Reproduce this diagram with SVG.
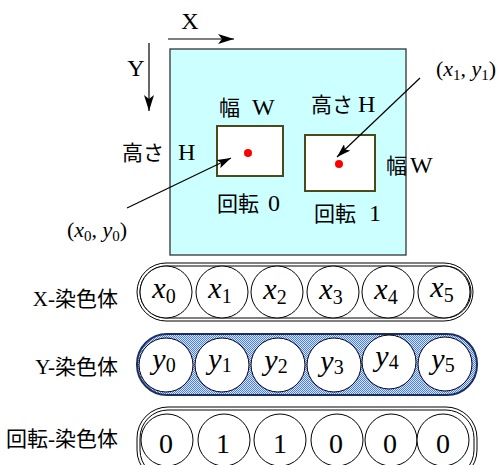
<svg xmlns="http://www.w3.org/2000/svg" width="502" height="465" viewBox="0 0 502 465">
<style>
text{font-family:"Liberation Serif","Noto Sans CJK JP",serif;fill:#000}
.lbl{font-size:21px}
.lat{font-size:24px}
.ax{font-size:24px}
.gene{font-size:30px}
.num{font-size:28px}
.it{font-style:italic}
.cell{fill:#fff;stroke:#000;stroke-width:1}
.pill{fill:#fff;stroke:#000;stroke-width:1}
.conn{stroke:#000;stroke-width:1.2;fill:none}
</style>
<defs>
<pattern id="chk" width="2" height="2" patternUnits="userSpaceOnUse">
<rect width="2" height="2" fill="#4a7ef0"/>
<rect x="1" y="0" width="1" height="1" fill="#dbe6ff"/>
<rect x="0" y="1" width="1" height="1" fill="#dbe6ff"/>
</pattern>
<marker id="ah" viewBox="0 0 16 10" refX="16" refY="5" markerWidth="16" markerHeight="10" markerUnits="userSpaceOnUse" orient="auto">
<path d="M0,0 L16,5 L0,10 L4,5 Z" fill="#000"/>
</marker>
<marker id="ahs" viewBox="0 0 14 9" refX="14" refY="4.5" markerWidth="14" markerHeight="9" markerUnits="userSpaceOnUse" orient="auto">
<path d="M0,0 L14,4.5 L0,9 L3,4.5 Z" fill="#000"/>
</marker>
</defs>

<g id="plane">
<rect x="170" y="49" width="236" height="206" fill="#ccffff" stroke="#333" stroke-width="1.3"/>
</g>

<g id="axis-x">
<text class="ax" x="190" y="29" text-anchor="middle">X</text>
</g>
<g id="axis-y">
<text class="ax" x="136" y="76" text-anchor="middle">Y</text>
</g>

<g id="rect0">
<rect x="217" y="126" width="66" height="50" fill="#fff" stroke="#4a4a1a" stroke-width="2"/>
<circle cx="248" cy="153" r="4" fill="#ff0000"/>
<text class="lbl" y="115"><tspan x="219">幅</tspan><tspan class="lat" x="252">W</tspan></text>
<text class="lbl" y="160"><tspan x="122">高さ</tspan><tspan class="lat" x="178">H</tspan></text>
<text class="lbl" y="211"><tspan x="217">回転</tspan><tspan class="lat" x="268">0</tspan></text>
</g>

<g id="rect1">
<rect x="305" y="135" width="70" height="56" fill="#fff" stroke="#4a4a1a" stroke-width="2"/>
<circle cx="339" cy="164" r="4" fill="#ff0000"/>
<text class="lbl" y="112"><tspan x="311">高さ</tspan><tspan class="lat" x="358">H</tspan></text>
<text class="lbl" y="173"><tspan x="386">幅</tspan><tspan class="lat" x="410">W</tspan></text>
<text class="lbl" y="221"><tspan x="314">回転</tspan><tspan class="lat" x="369">1</tspan></text>
</g>

<g id="label-p0">
<text x="97" y="237" text-anchor="middle" font-size="22">(<tspan class="it">x</tspan><tspan font-size="15" dy="4">0</tspan><tspan dy="-4">, </tspan><tspan class="it">y</tspan><tspan font-size="15" dy="4">0</tspan><tspan dy="-4">)</tspan></text>
</g>
<g id="label-p1">
<text x="466" y="76" text-anchor="middle" font-size="22">(<tspan class="it">x</tspan><tspan font-size="15" dy="4">1</tspan><tspan dy="-4">, </tspan><tspan class="it">y</tspan><tspan font-size="15" dy="4">1</tspan><tspan dy="-4">)</tspan></text>
</g>

<g id="connectors">
<line class="conn" x1="168" y1="39" x2="234" y2="39" stroke-width="1.5" marker-end="url(#ah)"/>
<line class="conn" x1="149" y1="43" x2="149" y2="111" stroke-width="1.5" marker-end="url(#ah)"/>
<line class="conn" x1="127" y1="208" x2="231" y2="158" marker-end="url(#ahs)"/>
<line class="conn" x1="420" y1="78" x2="337" y2="157" marker-end="url(#ahs)"/>
</g>

<g id="chrom-x">
<text class="lbl" x="118" y="306" text-anchor="end">X-染色体</text>
<rect class="pill" x="137" y="263" width="336" height="58" rx="29"/>
<rect class="pill" x="140" y="266" width="331" height="52" rx="26"/>
<circle class="cell" cx="166" cy="292" r="26"/>
<circle class="cell" cx="222" cy="292" r="26"/>
<circle class="cell" cx="277" cy="292" r="26"/>
<circle class="cell" cx="333" cy="292" r="26"/>
<circle class="cell" cx="388" cy="292" r="26"/>
<circle class="cell" cx="444" cy="292" r="26"/>
<text class="gene" x="164" y="298" text-anchor="middle"><tspan class="it">x</tspan><tspan font-size="20" dy="5">0</tspan></text>
<text class="gene" x="220" y="298" text-anchor="middle"><tspan class="it">x</tspan><tspan font-size="20" dy="5">1</tspan></text>
<text class="gene" x="275" y="299" text-anchor="middle"><tspan class="it">x</tspan><tspan font-size="20" dy="5">2</tspan></text>
<text class="gene" x="331" y="299" text-anchor="middle"><tspan class="it">x</tspan><tspan font-size="20" dy="5">3</tspan></text>
<text class="gene" x="386" y="299" text-anchor="middle"><tspan class="it">x</tspan><tspan font-size="20" dy="5">4</tspan></text>
<text class="gene" x="442" y="297" text-anchor="middle"><tspan class="it">x</tspan><tspan font-size="20" dy="5">5</tspan></text>
</g>

<g id="chrom-y">
<text class="lbl" x="118" y="374" text-anchor="end">Y-染色体</text>
<rect x="137" y="334" width="340" height="61" rx="30" fill="url(#chk)" stroke="#1c2e5c" stroke-width="2"/>
<circle class="cell" cx="166" cy="365" r="27"/>
<circle class="cell" cx="222" cy="365" r="27"/>
<circle class="cell" cx="278" cy="365" r="27"/>
<circle class="cell" cx="334" cy="365" r="27"/>
<circle class="cell" cx="389" cy="362" r="27"/>
<circle class="cell" cx="445" cy="364" r="27"/>
<text class="gene" x="164" y="369" text-anchor="middle"><tspan class="it">y</tspan><tspan font-size="20" dy="3">0</tspan></text>
<text class="gene" x="220" y="369" text-anchor="middle"><tspan class="it">y</tspan><tspan font-size="20" dy="3">1</tspan></text>
<text class="gene" x="276" y="370" text-anchor="middle"><tspan class="it">y</tspan><tspan font-size="20" dy="3">2</tspan></text>
<text class="gene" x="332" y="371" text-anchor="middle"><tspan class="it">y</tspan><tspan font-size="20" dy="3">3</tspan></text>
<text class="gene" x="387" y="366" text-anchor="middle"><tspan class="it">y</tspan><tspan font-size="20" dy="3">4</tspan></text>
<text class="gene" x="443" y="369" text-anchor="middle"><tspan class="it">y</tspan><tspan font-size="20" dy="3">5</tspan></text>
</g>

<g id="chrom-rot">
<text class="lbl" x="118" y="446" text-anchor="end">回転-染色体</text>
<rect class="pill" x="137" y="407" width="340" height="74" rx="31"/>
<rect class="pill" x="140" y="410" width="334" height="68" rx="28"/>
<circle class="cell" cx="167" cy="440" r="26"/>
<circle class="cell" cx="224" cy="440" r="26"/>
<circle class="cell" cx="280" cy="440" r="26"/>
<circle class="cell" cx="337" cy="440" r="26"/>
<circle class="cell" cx="391" cy="440" r="26"/>
<circle class="cell" cx="443" cy="440" r="26"/>
<text class="num" x="166" y="453" text-anchor="middle">0</text>
<text class="num" x="223" y="453" text-anchor="middle">1</text>
<text class="num" x="280" y="453" text-anchor="middle">1</text>
<text class="num" x="336" y="453" text-anchor="middle">0</text>
<text class="num" x="390" y="453" text-anchor="middle">0</text>
<text class="num" x="443" y="453" text-anchor="middle">0</text>
</g>
</svg>
